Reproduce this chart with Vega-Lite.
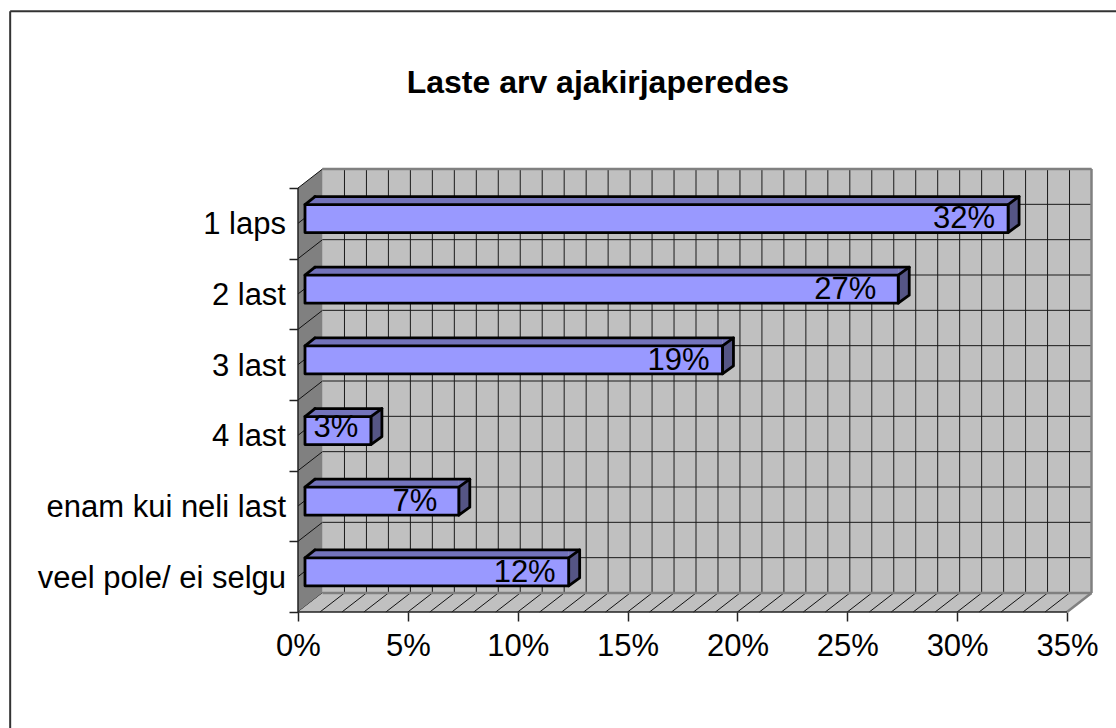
{
"$schema":"https://vega.github.io/schema/vega-lite/v6.json",
"width":769,"height":424,
"autosize":{"type":"none"},
"padding":{"left":298,"top":188,"right":49,"bottom":116},
"background":"white",
"config":{"view":{"stroke":null},"font":"Liberation Sans"},
"datasets":{
"bars":[
{"label":"1 laps","slot":5.5,"zero":0,"value":32,"text":"32%"},
{"label":"2 last","slot":4.5,"zero":0,"value":27,"text":"27%"},
{"label":"3 last","slot":3.5,"zero":0,"value":19,"text":"19%"},
{"label":"4 last","slot":2.5,"zero":0,"value":3,"text":"3%"},
{"label":"enam kui neli last","slot":1.5,"zero":0,"value":7,"text":"7%"},
{"label":"veel pole/ ei selgu","slot":0.5,"zero":0,"value":12,"text":"12%"}],
"pct":[{"k":1},{"k":2},{"k":3},{"k":4},{"k":5},{"k":6},{"k":7},{"k":8},{"k":9},{"k":10},{"k":11},{"k":12},{"k":13},{"k":14},{"k":15},{"k":16},{"k":17},{"k":18},{"k":19},{"k":20},{"k":21},{"k":22},{"k":23},{"k":24},{"k":25},{"k":26},{"k":27},{"k":28},{"k":29},{"k":30},{"k":31},{"k":32},{"k":33},{"k":34}],
"half":[{"s":0},{"s":0.5},{"s":1},{"s":1.5},{"s":2},{"s":2.5},{"s":3},{"s":3.5},{"s":4},{"s":4.5},{"s":5},{"s":5.5},{"s":6}],
"leftWall":[{"x":0,"lo":0,"hi":6},{"x":1.115,"lo":0.269,"hi":6.269}],
"floor":[{"x":0,"lo":0,"hi":0},{"x":1.115,"lo":0,"hi":0.269},{"x":35,"lo":0,"hi":0.269},{"x":36.115,"lo":0.269,"hi":0.269}]
},
"layer":[
{"data":{"values":[{}]},"mark":{"type":"rule","stroke":"#333333","strokeWidth":2},
 "encoding":{"x":{"datum":-13.1,"type":"quantitative","scale":{"domain":[0,35],"nice":false,"zero":false,"padding":0},"axis":{"title":null,"values":[0,5,10,15,20,25,30,35],"labelExpr":"datum.value + '%'","labelFont":"Liberation Sans","labelFontSize":31,"labelColor":"black","labelPadding":10,"tickSize":9,"tickColor":"#222222","tickWidth":1.5,"domain":false,"grid":false,"labelOverlap":false,"labelBound":false,"labelFlush":false}},
 "y":{"datum":8.5,"type":"quantitative","scale":{"domain":[0,6],"nice":false,"zero":false,"padding":0},"axis":{"title":null,"values":[0,1,2,3,4,5,6],"labels":false,"tickSize":9,"tickColor":"#222222","tickWidth":1.5,"domain":false,"grid":false}},
 "y2":{"datum":-1.64}}},
{"data":{"values":[{}]},"mark":{"type":"rule","stroke":"#333333","strokeWidth":2},
 "encoding":{"x":{"datum":-13.1,"type":"quantitative"},"x2":{"datum":37.3},"y":{"datum":8.5,"type":"quantitative"}}},
{"data":{"values":[{"title":"Laste arv ajakirjaperedes"}]},"mark":{"type":"text","font":"Liberation Sans","fontSize":32,"fontWeight":"bold","color":"black","align":"center","baseline":"alphabetic"},
 "encoding":{"x":{"datum":13.65,"type":"quantitative"},"y":{"datum":7.344,"type":"quantitative"},"text":{"field":"title"}}},
{"data":{"name":"bars"},"mark":{"type":"text","font":"Liberation Sans","fontSize":31,"align":"right","baseline":"middle","color":"black","dx":-12,"dy":2},
 "encoding":{"x":{"field":"zero","type":"quantitative"},"y":{"field":"slot","type":"quantitative"},"text":{"field":"label"}}},
{"data":{"values":[{}]},"mark":{"type":"rect","fill":"#c0c0c0"},
 "encoding":{"x":{"datum":1.115,"type":"quantitative"},"x2":{"datum":36.115},"y":{"datum":0.269,"type":"quantitative"},"y2":{"datum":6.269}}},
{"data":{"name":"pct"},"mark":{"type":"rule","stroke":"#1a1a1a","strokeWidth":1,"xOffset":24.5,"x2Offset":24.5,"yOffset":-19,"y2Offset":-19},
 "encoding":{"x":{"field":"k","type":"quantitative"},"y":{"datum":0,"type":"quantitative"},"y2":{"datum":6}}},
{"data":{"name":"half"},"mark":{"type":"rule","stroke":"#1a1a1a","strokeWidth":1,"xOffset":24.5,"x2Offset":24.5,"yOffset":-19,"y2Offset":-19},
 "encoding":{"y":{"field":"s","type":"quantitative"},"x":{"datum":0,"type":"quantitative"},"x2":{"datum":35}}},
{"data":{"name":"leftWall"},"mark":{"type":"area","fill":"#808080","line":false},
 "encoding":{"x":{"field":"x","type":"quantitative"},"y":{"field":"lo","type":"quantitative","stack":null},"y2":{"field":"hi"}}},
{"data":{"name":"half"},"mark":{"type":"rule","stroke":"#111111","strokeWidth":1,"y2Offset":-19,"x2Offset":24.5},
 "encoding":{"y":{"field":"s","type":"quantitative"},"y2":{"field":"s"},"x":{"datum":0,"type":"quantitative"},"x2":{"datum":0}}},
{"data":{"name":"floor"},"mark":{"type":"area","fill":"#c0c0c0","line":false},
 "encoding":{"x":{"field":"x","type":"quantitative"},"y":{"field":"lo","type":"quantitative","stack":null},"y2":{"field":"hi"}}},
{"data":{"name":"pct"},"mark":{"type":"rule","stroke":"#111111","strokeWidth":1,"y2Offset":-19,"x2Offset":24.5},
 "encoding":{"x":{"field":"k","type":"quantitative"},"x2":{"field":"k"},"y":{"datum":0,"type":"quantitative"},"y2":{"datum":0}}},
{"data":{"values":[{}]},"mark":{"type":"rule","stroke":"#808080","strokeWidth":2.5,"xOffset":24.5,"x2Offset":24.5,"yOffset":-19},
 "encoding":{"x":{"datum":0,"type":"quantitative"},"x2":{"datum":35},"y":{"datum":0,"type":"quantitative"}}},
{"data":{"values":[{}]},"mark":{"type":"rule","stroke":"#808080","strokeWidth":2.5,"xOffset":24.5,"x2Offset":24.5,"yOffset":-19},
 "encoding":{"x":{"datum":0,"type":"quantitative"},"x2":{"datum":35},"y":{"datum":6,"type":"quantitative"}}},
{"data":{"values":[{}]},"mark":{"type":"rule","stroke":"#808080","strokeWidth":2.5,"xOffset":24.5,"yOffset":-19,"y2Offset":-19},
 "encoding":{"x":{"datum":35,"type":"quantitative"},"y":{"datum":0,"type":"quantitative"},"y2":{"datum":6}}},
{"data":{"values":[{}]},"mark":{"type":"rule","stroke":"#808080","strokeWidth":2.5,"x2Offset":24.5,"y2Offset":-19},
 "encoding":{"x":{"datum":35,"type":"quantitative"},"x2":{"datum":35},"y":{"datum":0,"type":"quantitative"},"y2":{"datum":0}}},
{"data":{"values":[{}]},"mark":{"type":"rule","stroke":"#222222","strokeWidth":1.5},
 "encoding":{"x":{"datum":0,"type":"quantitative"},"y":{"datum":0,"type":"quantitative"},"y2":{"datum":6}}},
{"data":{"values":[{}]},"mark":{"type":"rule","stroke":"#222222","strokeWidth":1.5},
 "encoding":{"x":{"datum":0,"type":"quantitative"},"x2":{"datum":35},"y":{"datum":0,"type":"quantitative"}}},
{"data":{"name":"bars"},"mark":{"type":"bar","orient":"horizontal","size":8,"fill":"#7373bb","xOffset":17,"x2Offset":7,"yOffset":-22.8},
 "encoding":{"x":{"field":"zero","type":"quantitative","stack":null},"x2":{"field":"value"},"y":{"field":"slot","type":"quantitative","stack":null}}},
{"data":{"name":"bars"},"mark":{"type":"point","shape":"M0,0 L10,-8 L10,0 Z","size":4,"filled":true,"fill":"#7373bb","opacity":1,"xOffset":7,"yOffset":-18.8},
 "encoding":{"x":{"field":"zero","type":"quantitative"},"y":{"field":"slot","type":"quantitative"}}},
{"data":{"name":"bars"},"mark":{"type":"point","shape":"M0,0 L0,-8 L11,-8 Z","size":4,"filled":true,"fill":"#7373bb","opacity":1,"xOffset":7,"yOffset":-18.8},
 "encoding":{"x":{"field":"value","type":"quantitative"},"y":{"field":"slot","type":"quantitative"}}},
{"data":{"name":"bars"},"mark":{"type":"rule","stroke":"black","strokeWidth":2.8,"strokeCap":"round","xOffset":17,"x2Offset":18,"yOffset":-26.8},
 "encoding":{"x":{"field":"zero","type":"quantitative"},"x2":{"field":"value"},"y":{"field":"slot","type":"quantitative"}}},
{"data":{"name":"bars"},"mark":{"type":"rule","stroke":"black","strokeWidth":2.8,"strokeCap":"round","xOffset":7,"x2Offset":17,"yOffset":-18.8,"y2Offset":-26.8},
 "encoding":{"x":{"field":"zero","type":"quantitative"},"x2":{"field":"zero"},"y":{"field":"slot","type":"quantitative"},"y2":{"field":"slot"}}},
{"data":{"name":"bars"},"mark":{"type":"point","shape":"M0,0 L11,-8 L11,20 L0,28 Z","size":4,"filled":true,"fill":"#555585","stroke":"black","strokeWidth":2.8,"opacity":1,"strokeJoin":"round","xOffset":7,"yOffset":-18.8},
 "encoding":{"x":{"field":"value","type":"quantitative"},"y":{"field":"slot","type":"quantitative"}}},
{"data":{"name":"bars"},"mark":{"type":"bar","orient":"horizontal","size":28,"fill":"#9999ff","stroke":"black","strokeWidth":2.8,"strokeJoin":"round","xOffset":7,"x2Offset":7,"yOffset":-4.8},
 "encoding":{"x":{"field":"zero","type":"quantitative","stack":null},"x2":{"field":"value"},"y":{"field":"slot","type":"quantitative","stack":null}}},
{"data":{"name":"bars"},"transform":[{"filter":"datum.value != 27 && datum.value != 3"}],"mark":{"type":"text","font":"Liberation Sans","fontSize":31,"align":"center","baseline":"middle","color":"black","dx":-37,"yOffset":-4},
 "encoding":{"x":{"field":"value","type":"quantitative"},"y":{"field":"slot","type":"quantitative"},"text":{"field":"text"}}},
{"data":{"name":"bars"},"transform":[{"filter":"datum.value == 27"}],"mark":{"type":"text","font":"Liberation Sans","fontSize":31,"align":"center","baseline":"middle","color":"black","dx":-46,"yOffset":-4},
 "encoding":{"x":{"field":"value","type":"quantitative"},"y":{"field":"slot","type":"quantitative"},"text":{"field":"text"}}},
{"data":{"name":"bars"},"transform":[{"filter":"datum.value == 3"}],"mark":{"type":"text","font":"Liberation Sans","fontSize":31,"align":"center","baseline":"middle","color":"black","dx":-28,"yOffset":-7},
 "encoding":{"x":{"field":"value","type":"quantitative"},"y":{"field":"slot","type":"quantitative"},"text":{"field":"text"}}}
]
}
